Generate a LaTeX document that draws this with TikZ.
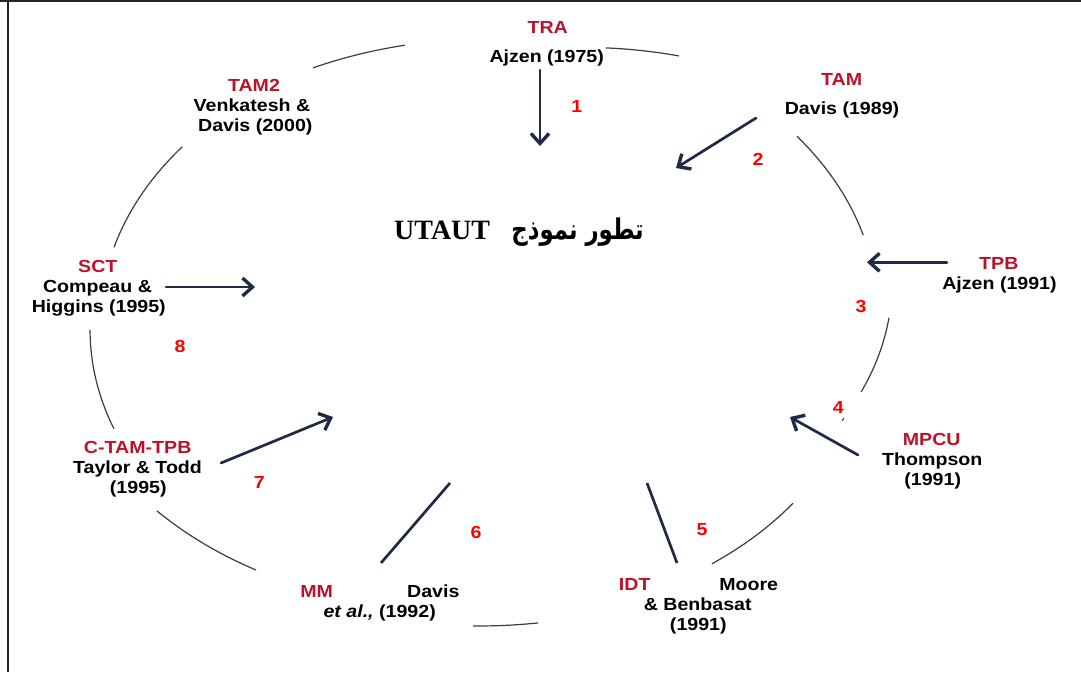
\documentclass[tikz,border=0pt]{standalone}
\usepackage{fontspec}
\usetikzlibrary{arrows.meta}
\TeXXeTstate=1
\newfontfamily\labfont{Liberation Sans}[FakeStretch=1.12]
\newfontfamily\titlefont{Liberation Serif}
\newfontfamily\arabicfont[Script=Arabic,FakeStretch=0.8]{DejaVu Sans}
\definecolor{acro}{RGB}{192,16,40}
\definecolor{stepnum}{RGB}{255,0,0}
\definecolor{navy}{RGB}{31,42,68}
\definecolor{ring}{RGB}{60,60,60}

\tikzset{
  lbl/.style={inner sep=0pt, anchor=base, text=black,
    font=\labfont\fontsize{17.5}{20}\selectfont\bfseries},
  acr/.style={lbl, text=acro},
  num/.style={inner sep=0pt, anchor=center, text=stepnum,
    font=\labfont\fontsize{17.5}{20}\selectfont\bfseries},
  flow/.style={draw=navy, line width=2.7pt, line cap=round,
    -{Straight Barb[length=10pt,width=18pt,line width=3.4pt]}},
  bare/.style={draw=navy, line width=2.7pt},
  ringarc/.style={draw=ring, line width=1.2pt},
  frame/.style={draw=black!85, line width=2pt},
}

% one segment of the surrounding ring: angles #1..#2, radius factors #3..#4
\newcommand{\ringseg}[4]{%
  \draw[ringarc] plot[domain=#1:#2, samples=40, variable=\q]
   ({490+((#3)+((#4)-(#3))*(\q-(#1))/((#2)-(#1)))*400*cos(\q)},
    {334-((#3)+((#4)-(#3))*(\q-(#1))/((#2)-(#1)))*291*sin(\q)});}

\begin{document}
\begin{tikzpicture}[x=1pt,y=-1pt]
\useasboundingbox (0,0) rectangle (1081,672);

% frame
\draw[frame] (0,1) -- (1081,1);
\draw[frame] (7.5,0) -- (7.5,672);

% ring segments
\ringseg{102.1}{115.8}{1.015}{1.016}
\ringseg{63.7}{73.6}{1.066}{1.025}
\ringseg{20.0}{41.5}{0.993}{1.025}
\ringseg{-12.1}{3.2}{0.949}{0.999}
\ringseg{-54.9}{-37.5}{0.965}{0.955}
\ringseg{-92.4}{-83.1}{1.004}{1.0}
\ringseg{216.1}{234.2}{1.031}{1.0}
\ringseg{179.2}{199.1}{1.0}{0.995}
\ringseg{140.1}{162.4}{1.003}{0.986}
\draw[ring, line width=1pt] (842,421) -- (844,418);

% title
\node[inner sep=0pt, anchor=base west, font=\titlefont\fontsize{28}{30}\selectfont\bfseries] (utaut) at (394,239) {UTAUT};
\node[inner sep=0pt, anchor=base east, font=\arabicfont\fontsize{28.5}{30}\selectfont\bfseries] (arab) at (644,239) {\beginR تطور نموذج\endR};

% models
\node[acr] (tra) at (547.7,33.3) {TRA};
\node[lbl] (traref) at (546.7,62.7) {Ajzen (1975)};

\node[acr] (tam) at (841.7,85) {TAM};
\node[lbl] (tamref) at (842,114.3) {Davis (1989)};

\node[acr] (tamtwo) at (254,91.7) {TAM2};
\node[lbl] (tamtwoa) at (252,111.7) {Venkatesh \&};
\node[lbl] (tamtwob) at (255.3,131.7) {Davis (2000)};

\node[acr] (sct) at (97.8,272.3) {SCT};
\node[lbl] (scta) at (97.5,292.3) {Compeau \&};
\node[lbl] (sctb) at (98.8,312.3) {Higgins (1995)};

\node[acr] (ctam) at (137.7,453.3) {C-TAM-TPB};
\node[lbl] (ctama) at (137.5,473.3) {Taylor \& Todd};
\node[lbl] (ctamb) at (138.3,493.3) {(1995)};

\node[acr] (mm) at (316.7,597.7) {MM};
\node[lbl] (mma) at (433.3,597.7) {Davis};
\node[lbl] (mmb) at (379.7,617.7) {\itshape et al.,\upshape{} (1992)};

\node[acr] (idt) at (634.7,590) {IDT};
\node[lbl] (idta) at (748.7,590) {Moore};
\node[lbl] (idtb) at (697.7,610) {\& Benbasat};
\node[lbl] (idtc) at (698.3,630) {(1991)};

\node[acr] (tpb) at (998.8,269.3) {TPB};
\node[lbl] (tpbref) at (999.5,289.3) {Ajzen (1991)};

\node[acr] (mpcu) at (931.7,445.7) {MPCU};
\node[lbl] (mpcua) at (932.3,465.7) {Thompson};
\node[lbl] (mpcub) at (932.7,485.7) {(1991)};

% step numbers
\node[num] (n1) at (576.7,106) {1};
\node[num] (n2) at (758,159) {2};
\node[num] (n3) at (861,306.7) {3};
\node[num] (n4) at (838.3,407.7) {4};
\node[num] (n5) at (702,529.3) {5};
\node[num] (n6) at (476,532.7) {6};
\node[num] (n7) at (259.3,482.7) {7};
\node[num] (n8) at (180,346) {8};

% connector ends
\coordinate (s1) at (540,70);    \coordinate (e1) at (540,146);
\coordinate (s2) at (756,118);   \coordinate (e2) at (676,168);
\coordinate (s3) at (947,262.3); \coordinate (e3) at (867,262.3);
\coordinate (s4) at (858,455);   \coordinate (e4) at (790,417);
\coordinate (s5) at (677,563);   \coordinate (e5) at (647,483);
\coordinate (s6) at (381,563);   \coordinate (e6) at (450,483);
\coordinate (s7) at (221,463);   \coordinate (e7) at (333,417);
\coordinate (s8) at (166,287);   \coordinate (e8) at (255,287);

\draw[flow] (s1) -- (e1);
\draw[flow] (s2) -- (e2);
\draw[flow] (s3) -- (e3);
\draw[flow] (s4) -- (e4);
\draw[bare] (s5) -- (e5);
\draw[bare] (s6) -- (e6);
\draw[flow] (s7) -- (e7);
\draw[flow] (s8) -- (e8);
\end{tikzpicture}
\end{document}
